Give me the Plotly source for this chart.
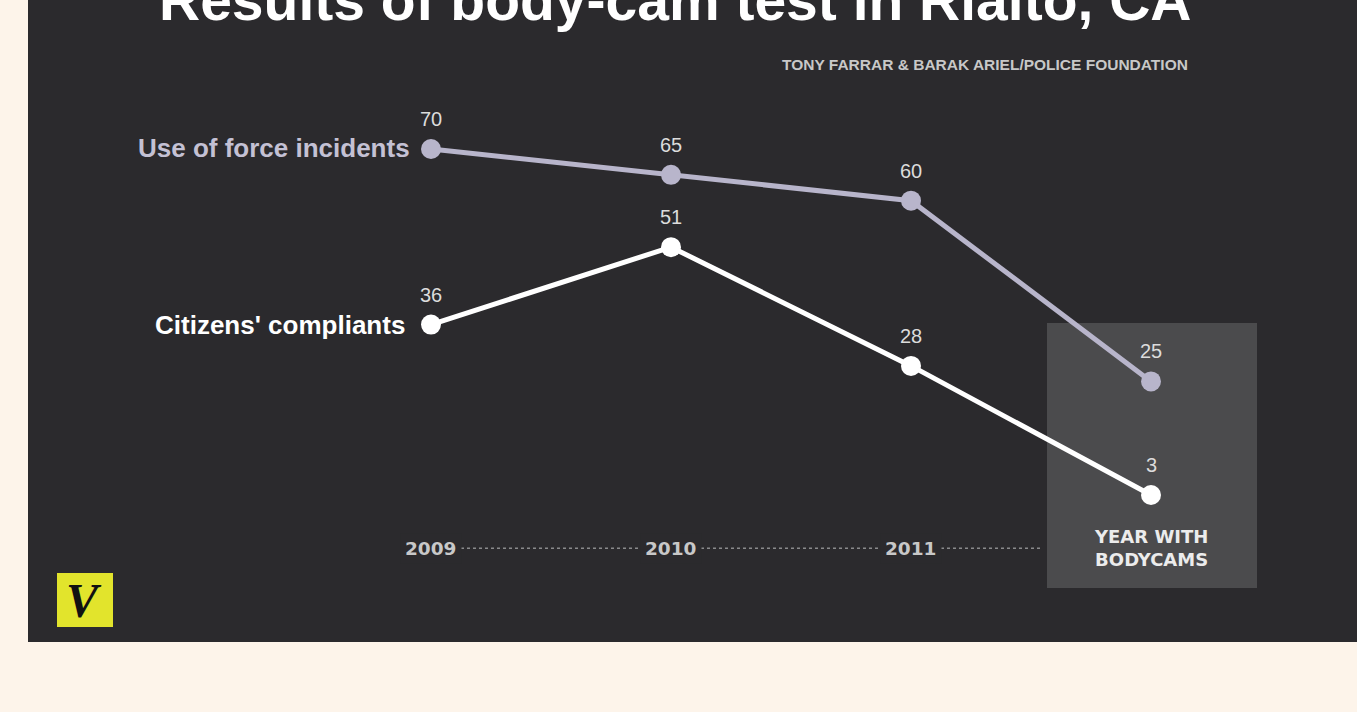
import plotly.graph_objects as go

categories = ["2009", "2010", "2011", "YEAR WITH<br>BODYCAMS"]
use_of_force = [70, 65, 60, 25]
complaints = [36, 51, 28, 3]
series_names = ["Use of force incidents", "Citizens' compliants"]

title = "Results of body-cam test in Rialto, CA"
source = "TONY FARRAR & BARAK ARIEL/POLICE FOUNDATION"

BG = "#fdf4ea"
PANEL = "#2b2a2d"
FORCE = "#b8b5cb"
COMP = "#ffffff"
FONT = "Liberation Sans, Arial"

fig = go.Figure()

# dotted baseline (secondary linear x axis sharing the same pixel range)
fig.add_trace(go.Scatter(x=[-0.1, 2.55], y=[-7.3, -7.3], mode="lines",
                         line=dict(color="#8a8a8c", width=1.5, dash="dot"),
                         hoverinfo="skip", showlegend=False, xaxis="x2", yaxis="y"))

fig.add_trace(go.Scatter(x=categories, y=use_of_force, mode="lines+markers",
                         line=dict(color=FORCE, width=5),
                         marker=dict(color=FORCE, size=20), showlegend=False))
fig.add_trace(go.Scatter(x=categories, y=complaints, mode="lines+markers",
                         line=dict(color=COMP, width=5),
                         marker=dict(color=COMP, size=20), showlegend=False))

ann = []
for i, v in enumerate(use_of_force):
    ann.append(dict(x=i, y=v, text=str(v), showarrow=False, yshift=30,
                    font=dict(family=FONT, size=20, color="#dcdcdc")))
for i, v in enumerate(complaints):
    ann.append(dict(x=i, y=v, text=str(v), showarrow=False, yshift=30,
                    font=dict(family=FONT, size=20, color="#dcdcdc")))

ann.append(dict(x=0, y=use_of_force[0], text="<b>" + series_names[0] + "</b>",
                showarrow=False, xanchor="right", xshift=-19, yshift=1,
                font=dict(family=FONT, size=26, color="#c4c1d4")))
ann.append(dict(x=0, y=complaints[0], text="<b>" + series_names[1] + "</b>",
                showarrow=False, xanchor="right", xshift=-24,
                font=dict(family=FONT, size=26, color="#ffffff")))

for i, cat in enumerate(categories):
    last = i == len(categories) - 1
    ann.append(dict(x=i, y=-7.3, text="<b>" + cat + "</b>", showarrow=False,
                    bgcolor=None if last else PANEL, borderpad=4,
                    font=dict(family="DejaVu Sans, Arial", size=18.5 if not last else 18,
                              color="#c8c8c8" if not last else "#ececec")))

ann.append(dict(xref="paper", yref="paper", x=675 / 1357, y=1 - 34 / 712, yanchor="bottom",
                text="<b>" + title + "</b>", showarrow=False,
                font=dict(family=FONT, size=57, color="#ffffff")))
ann.append(dict(xref="paper", yref="paper", x=1190 / 1357, y=1 - 64 / 712,
                xanchor="right", yanchor="middle",
                text="<b>" + source + "</b>", showarrow=False,
                font=dict(family=FONT, size=15.5, color="#c8c8c8")))
ann.append(dict(xref="paper", yref="paper", x=84 / 1357, y=1 - 600 / 712,
                xanchor="center", yanchor="middle",
                text="<b><i>V</i></b>", showarrow=False,
                font=dict(family="Liberation Serif, DejaVu Serif", size=48, color="#111111")))

shapes = [
    dict(type="rect", xref="paper", yref="paper", x0=28 / 1357, x1=1, y0=1 - 642 / 712, y1=1,
         fillcolor=PANEL, line=dict(width=0), layer="below"),
    dict(type="rect", xref="paper", yref="paper", x0=1047 / 1357, x1=1257 / 1357,
         y0=1 - 588 / 712, y1=1 - 323 / 712, fillcolor="#4b4b4d", line=dict(width=0), layer="below"),
    dict(type="rect", xref="paper", yref="paper", x0=57 / 1357, x1=113 / 1357,
         y0=1 - 627 / 712, y1=1 - 573 / 712, fillcolor="#e2e42c", line=dict(width=0), layer="below"),
]

xr = [(0 - 431) / 240, (1357 - 431) / 240]
yr = [(510.5 - 712) / 5.164, 510.5 / 5.164]

fig.update_layout(
    width=1357, height=712,
    margin=dict(l=0, r=0, t=0, b=0),
    paper_bgcolor=BG, plot_bgcolor="rgba(0,0,0,0)",
    xaxis=dict(type="category", categoryorder="array", categoryarray=categories,
               range=xr, visible=False, fixedrange=True),
    xaxis2=dict(range=xr, visible=False, overlaying="x", fixedrange=True),
    yaxis=dict(range=yr, visible=False, fixedrange=True),
    annotations=ann, shapes=shapes,
)

fig.write_html("out.html", config={"displayModeBar": False},
               post_script="document.body.style.margin='0';document.body.style.overflow='hidden';")
